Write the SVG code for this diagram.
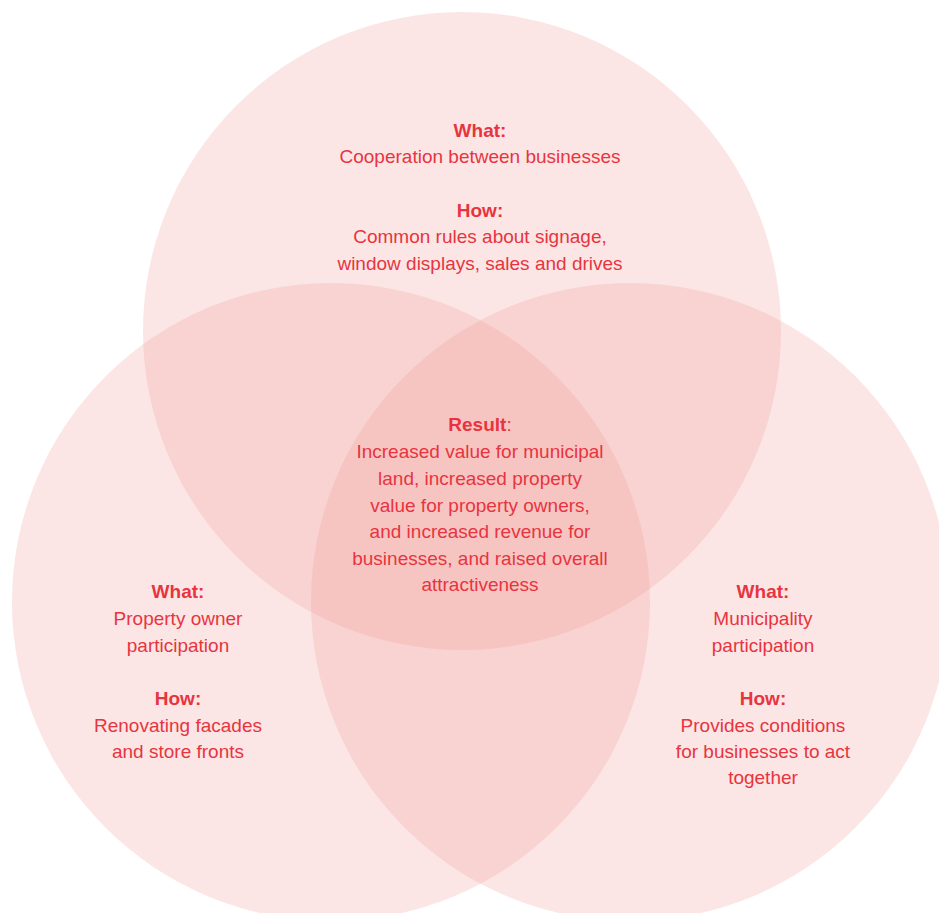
<svg xmlns="http://www.w3.org/2000/svg" width="939" height="913" viewBox="0 0 939 913">
<style>
.c{fill:#ef9b97;fill-opacity:0.25}
text{font-family:"Liberation Sans","Noto Sans",Arial,sans-serif;font-size:19px;fill:#e8343f;text-anchor:middle}
.b{font-weight:bold}
</style>
<rect width="939" height="913" fill="#ffffff"/>
<g id="circle-businesses"><circle class="c" cx="462" cy="331" r="319"/></g>
<g id="circle-property"><circle class="c" cx="331" cy="602" r="319"/></g>
<g id="circle-municipality"><circle class="c" cx="630" cy="602" r="319"/></g>
<g id="connectors"></g>
<g id="label-businesses">
<text x="480" y="137" class="b">What:</text>
<text x="480" y="163">Cooperation between businesses</text>
<text x="480" y="217" class="b">How:</text>
<text x="480" y="243">Common rules about signage,</text>
<text x="480" y="270">window displays, sales and drives</text>
</g>
<g id="label-result">
<text x="480" y="431"><tspan class="b">Result</tspan>:</text>
<text x="480" y="458">Increased value for municipal</text>
<text x="480" y="485">land, increased property</text>
<text x="480" y="512">value for property owners,</text>
<text x="480" y="538">and increased revenue for</text>
<text x="480" y="565">businesses, and raised overall</text>
<text x="480" y="591">attractiveness</text>
</g>
<g id="label-property">
<text x="178" y="598" class="b">What:</text>
<text x="178" y="625">Property owner</text>
<text x="178" y="652">participation</text>
<text x="178" y="705" class="b">How:</text>
<text x="178" y="732">Renovating facades</text>
<text x="178" y="758">and store fronts</text>
</g>
<g id="label-municipality">
<text x="763" y="598" class="b">What:</text>
<text x="763" y="625">Municipality</text>
<text x="763" y="652">participation</text>
<text x="763" y="705" class="b">How:</text>
<text x="763" y="732">Provides conditions</text>
<text x="763" y="758">for businesses to act</text>
<text x="763" y="784">together</text>
</g>
</svg>
